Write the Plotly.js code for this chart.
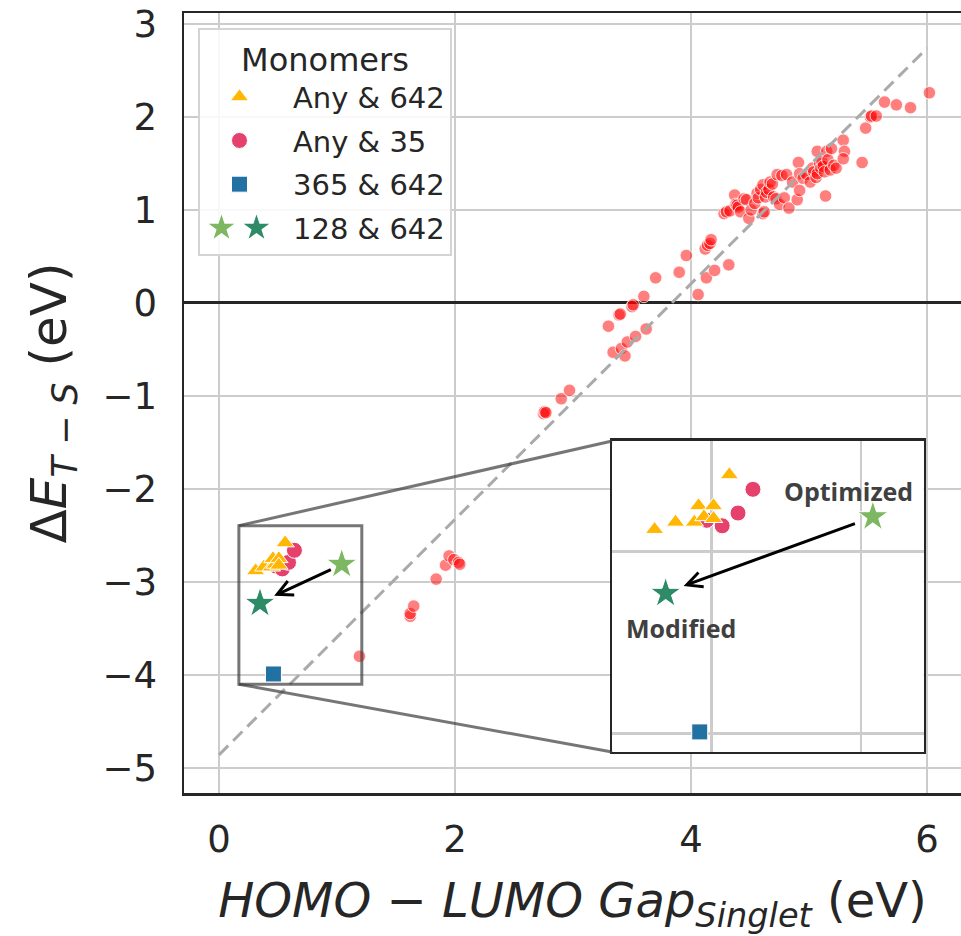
<!DOCTYPE html>
<html>
<head>
<meta charset="utf-8">
<script src="https://cdn.plot.ly/plotly-3.0.1.min.js"></script>
<style>html,body{margin:0;padding:0;background:#fff;}</style>
</head>
<body>
<div id="chart" style="width:961px;height:936px;"></div>
<script>
// ---- Data ----
const redX = [1.19,1.62,1.62,1.65,1.84,1.92,1.95,1.99,2.03,2.04,
  2.75,2.76,2.77,2.90,2.97,3.30,3.34,3.39,3.40,3.41,3.44,3.46,3.50,3.51,3.53,3.60,3.62,3.70,
  3.90,3.96,4.06,4.13,4.12,4.14,4.16,4.17,4.20,4.32,
  4.28,4.30,4.33,4.37,4.38,4.39,4.40,4.42,4.45,4.47,4.49,4.51,4.54,4.56,4.57,4.59,4.61,4.61,4.62,
  4.63,4.64,4.66,4.67,4.69,4.70,4.72,4.73,4.75,4.77,4.79,4.81,4.83,4.86,4.90,4.91,4.92,4.92,4.95,
  4.98,5.01,5.03,5.04,5.06,5.07,5.07,5.09,5.10,5.11,5.12,5.13,5.14,5.15,5.16,5.18,5.19,5.21,5.23,
  5.29,5.30,5.29,5.45,5.48,5.52,5.53,5.57,5.64,5.74,5.86,6.02];
const redY = [-3.80,-3.37,-3.34,-3.26,-2.97,-2.82,-2.72,-2.76,-2.79,-2.81,
  -1.19,-1.17,-1.18,-1.03,-0.94,-0.25,-0.53,-0.13,-0.12,-0.49,-0.57,-0.42,-0.04,-0.02,-0.36,0.07,-0.28,0.27,
  0.33,0.51,0.09,0.27,0.58,0.62,0.64,0.68,0.35,0.41,
  0.96,0.98,0.99,1.16,1.06,1.05,1.03,0.98,1.12,1.11,0.91,1.00,1.07,1.18,1.13,1.22,1.27,0.96,0.98,
  1.14,1.19,1.22,1.30,1.28,1.14,1.12,1.38,1.06,1.37,1.13,1.38,1.02,1.30,1.11,1.51,1.21,1.39,1.34,
  1.38,1.30,1.45,1.41,1.35,1.63,1.39,1.50,1.45,1.52,1.47,1.41,1.15,1.63,1.54,1.43,1.66,1.48,1.45,
  1.75,1.63,1.55,1.51,1.88,2.00,2.01,2.01,2.16,2.13,2.10,2.26];

const fitX = [0, 6];
const fitY = [-4.86, 2.74];

const any642X = [0.31,0.38,0.443,0.457,0.475,0.507,0.507,0.56];
const any642Y = [-2.88,-2.84,-2.84,-2.75,-2.81,-2.75,-2.82,-2.58];
const any35X = [0.484,0.536,0.589,0.639];
const any35Y = [-2.83,-2.86,-2.79,-2.66];
const m365X = [0.461];
const m365Y = [-3.99];
const optX = [1.04];
const optY = [-2.81];
const modX = [0.347];
const modY = [-3.23];

const xTickVals = [0, 2, 4, 6];
const yTickVals = [-5, -4, -3, -2, -1, 0, 1, 2, 3];
const legendNames = ['Any & 642', 'Any & 35', '365 & 642', '128 & 642'];
const legendTitle = 'Monomers';
const labelOpt = 'Optimized';
const labelMod = 'Modified';

// ---- Styling ----
const FONT = 'DejaVu Sans, sans-serif';
const TXT = '#262626';
const GRID = '#cccccc';
const C_TRI = '#FFB703';
const C_CIR = '#E6406D';
const C_SQ = '#2271A3';
const C_OPT = '#7DB762';
const C_MOD = '#2E8B67';

const mainX = [-0.297, 6.288];
const mainY = [-5.27, 3.118];
const insX = [0.168, 1.21];
const insY = [-4.10, -2.395];
const insDomX = [0.551, 0.952];
const insDomY = [0.0526, 0.4513];

function monomerTraces(xa, ya, legend) {
  const edge = {color: 'white', width: 1};
  return [
    {x: any35X, y: any35Y, xaxis: xa, yaxis: ya, type: 'scatter', mode: 'markers', name: legendNames[1],
     legendgroup: 'g2', legendrank: 2, showlegend: legend,
     marker: {symbol: 'circle', size: 16, color: C_CIR, line: edge}},
    {x: any642X, y: any642Y, xaxis: xa, yaxis: ya, type: 'scatter', mode: 'markers', name: legendNames[0],
     legendgroup: 'g1', legendrank: 1, showlegend: legend,
     marker: {symbol: 'triangle-up', size: 16, color: C_TRI, line: edge}},
    {x: m365X, y: m365Y, xaxis: xa, yaxis: ya, type: 'scatter', mode: 'markers', name: legendNames[2],
     legendgroup: 'g3', legendrank: 3, showlegend: legend,
     marker: {symbol: 'square', size: 16, color: C_SQ, line: edge}},
    {x: optX, y: optY, xaxis: xa, yaxis: ya, type: 'scatter', mode: 'markers', name: legendNames[3],
     legendgroup: 'g4', showlegend: false,
     marker: {symbol: 'star', size: 23, color: C_OPT, line: edge}},
    {x: modX, y: modY, xaxis: xa, yaxis: ya, type: 'scatter', mode: 'markers', name: legendNames[3],
     legendgroup: 'g4', legendrank: 4, showlegend: legend,
     marker: {symbol: 'star', size: 23, color: C_MOD, line: edge}}
  ];
}

const traces = [
  {x: redX, y: redY, type: 'scatter', mode: 'markers', showlegend: false,
   marker: {size: 12.5, color: 'rgba(255,0,0,0.5)', line: {color: 'rgba(255,255,255,0.8)', width: 1}}},
  {x: fitX, y: fitY, type: 'scatter', mode: 'lines', showlegend: false,
   line: {color: '#aaaaaa', width: 3, dash: '13px,7px'}},
  ...monomerTraces('x', 'y', true),
  ...monomerTraces('x2', 'y2', false)
];

// inset corner positions expressed in main data coordinates
const cornerX = mainX[0] + insDomX[0] * (mainX[1] - mainX[0]);
const cornerYTop = mainY[0] + insDomY[1] * (mainY[1] - mainY[0]);
const cornerYBot = mainY[0] + insDomY[0] * (mainY[1] - mainY[0]);

const axisCommon = {
  showgrid: true, gridcolor: GRID, gridwidth: 2.5,
  showline: true, linecolor: TXT, linewidth: 2.5, ticks: '',
  tickfont: {family: FONT, size: 37, color: TXT}
};

const layout = {
  width: 961, height: 936,
  margin: {l: 184, r: 0, t: 13, b: 143},
  paper_bgcolor: 'white', plot_bgcolor: 'white',
  font: {family: FONT, color: TXT},
  xaxis: Object.assign({}, axisCommon, {
    range: mainX, tickvals: xTickVals, zeroline: false, mirror: true,
    ticklabelstandoff: 12,
    title: {text: '<i>HOMO</i> − <i>LUMO Gap</i><sub><i>Singlet</i></sub> (eV)',
            font: {family: FONT, size: 48, color: TXT}, standoff: 24}
  }),
  yaxis: Object.assign({}, axisCommon, {
    range: mainY, tickvals: yTickVals, zeroline: true, zerolinecolor: TXT, zerolinewidth: 3,
    mirror: false, ticklabelstandoff: 17,
    title: {text: 'Δ<i>E</i><sub><i>T</i> − <i>S</i></sub> (eV)',
            font: {family: FONT, size: 50, color: TXT}, standoff: 20}
  }),
  xaxis2: Object.assign({}, axisCommon, {
    domain: insDomX, anchor: 'y2', range: insX, tick0: 0, dtick: 0.5,
    showticklabels: false, zeroline: false, mirror: true
  }),
  yaxis2: Object.assign({}, axisCommon, {
    domain: insDomY, anchor: 'x2', range: insY, tick0: 0, dtick: 1,
    showticklabels: false, zeroline: false, mirror: true
  }),
  showlegend: true,
  legend: {
    x: 0.018, y: 0.981, xanchor: 'left', yanchor: 'top',
    bgcolor: 'rgba(255,255,255,0.85)', bordercolor: '#d4d4d4', borderwidth: 2,
    font: {family: FONT, size: 29, color: TXT},
    title: {text: legendTitle, side: 'top center', font: {family: FONT, size: 32, color: TXT}},
    traceorder: 'grouped', itemwidth: 83, tracegroupgap: 3
  },
  shapes: [
    {type: 'rect', xref: 'x', yref: 'y', x0: insX[0], x1: insX[1], y0: insY[0], y1: insY[1],
     line: {color: 'rgba(60,60,60,0.7)', width: 3}},
    {type: 'line', xref: 'x', yref: 'y', x0: insX[0], y0: insY[1], x1: cornerX, y1: cornerYTop,
     line: {color: 'rgba(60,60,60,0.7)', width: 3}},
    {type: 'line', xref: 'x', yref: 'y', x0: insX[0], y0: insY[0], x1: cornerX, y1: cornerYBot,
     line: {color: 'rgba(60,60,60,0.7)', width: 3}}
  ],
  annotations: [
    {xref: 'x', yref: 'y', axref: 'x', ayref: 'y', x: modX[0] + 0.12, y: modY[0] + 0.08,
     ax: optX[0] - 0.08, ay: optY[0] - 0.05, text: '', showarrow: true,
     arrowhead: 5, arrowsize: 1, arrowwidth: 3, arrowcolor: 'black', standoff: 0},
    {xref: 'x2', yref: 'y2', axref: 'x2', ayref: 'y2', x: modX[0] + 0.06, y: modY[0] + 0.04,
     ax: optX[0] - 0.055, ay: optY[0] - 0.035, text: '', showarrow: true,
     arrowhead: 5, arrowsize: 1, arrowwidth: 3, arrowcolor: 'black', standoff: 0},
    {xref: 'x2', yref: 'y2', x: 0.957, y: -2.67, text: '<b>' + labelOpt + '</b>', showarrow: false,
     font: {family: 'Open Sans, sans-serif', size: 25, color: '#404040'}},
    {xref: 'x2', yref: 'y2', x: 0.40, y: -3.42, text: '<b>' + labelMod + '</b>', showarrow: false,
     font: {family: 'Open Sans, sans-serif', size: 25, color: '#404040'}}
  ]
};

function parseTr(tr) {
  const m = (tr || '').match(/translate\(([-\d.e]+)[ ,]*([-\d.e]*)\)/);
  return [m ? parseFloat(m[1]) : 0, m && m[2] ? parseFloat(m[2]) : 0];
}

Plotly.newPlot('chart', traces, layout, {staticPlot: true}).then(function (gd) {
  const items = gd.querySelectorAll('.legend .traces');
  items.forEach(function (it) {
    // move the legend symbols a little to the left, as in the reference
    const lp = it.querySelector('.legendpoints');
    if (lp) lp.setAttribute('transform', 'translate(-7,0)');
    const txt = it.querySelector('.legendtext');
    if (txt && txt.textContent === legendNames[3]) {
      const pt = it.querySelector('.legendpoints path.scatterpts');
      if (!pt) return;
      const clone = pt.cloneNode(true);
      const b = parseTr(pt.getAttribute('transform'));
      clone.setAttribute('transform', 'translate(' + (b[0] - 18) + ',' + b[1] + ') scale(1.4)');
      clone.style.fill = C_OPT;
      pt.setAttribute('transform', 'translate(' + (b[0] + 17) + ',' + b[1] + ') scale(1.4)');
      pt.parentNode.insertBefore(clone, pt);
    }
  });
  // drop empty text nodes (arrow-only annotations, unused inset titles)
  gd.querySelectorAll('svg text').forEach(function (t) {
    if (!t.textContent || !t.textContent.trim()) t.parentNode.removeChild(t);
  });
});
</script>
</body>
</html>
